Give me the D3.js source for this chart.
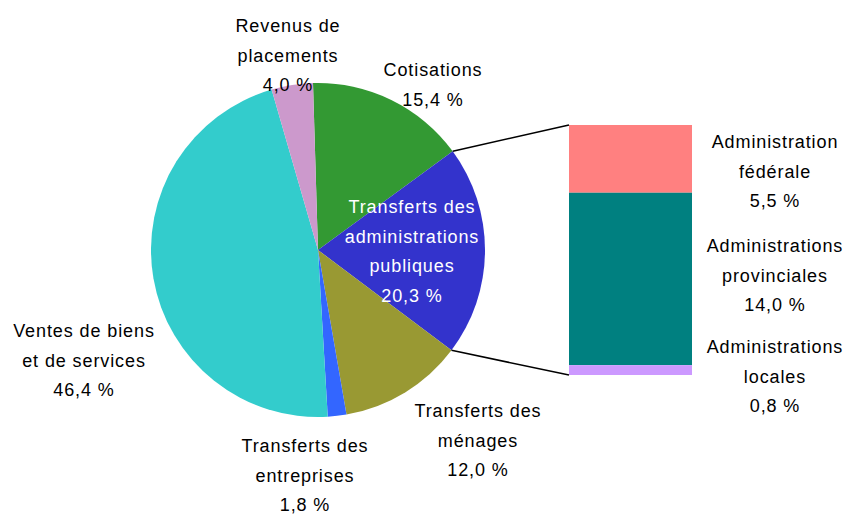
<!DOCTYPE html>
<html><head><meta charset="utf-8">
<script src="https://cdn.jsdelivr.net/npm/d3@7"></script>
<style>body{margin:0;background:#fff}svg{display:block}text{font-family:"Liberation Sans",Arial,sans-serif;font-size:18px;letter-spacing:0.9px}</style>
</head><body><svg id="c" width="846" height="515"></svg>
<script>
// Data
const pieCategories = ["Cotisations", "Transferts des administrations publiques", "Transferts des ménages", "Transferts des entreprises", "Ventes de biens et de services", "Revenus de placements"];
const pieValues = [15.4, 20.3, 12.0, 1.8, 46.4, 4.0];
const pieLabelLines = [["Cotisations", "15,4 %"], ["Transferts des", "administrations", "publiques", "20,3 %"], ["Transferts des", "ménages", "12,0 %"], ["Transferts des", "entreprises", "1,8 %"], ["Ventes de biens", "et de services", "46,4 %"], ["Revenus de", "placements", "4,0 %"]];
const barCategories = ["Administration fédérale", "Administrations provinciales", "Administrations locales"];
const barValues = [5.5, 14.0, 0.8];
const barLabelLines = [["Administration", "fédérale", "5,5 %"], ["Administrations", "provinciales", "14,0 %"], ["Administrations", "locales", "0,8 %"]];

// Layout / styles
const pieColors = ["#339933", "#3333CC", "#999933", "#3366FF", "#33CCCC", "#CC99CC"];
const barColors = ["#FF8080", "#008080", "#CC99FF"];
const cx = 318, cy = 250, R = 167, rot = -0.03;
const pieLabelPos = [[433, 76, "#000"], [412, 213, "#fff"], [478, 417, "#000"], [305, 452, "#000"], [84, 337, "#000"], [288, 32, "#000"]];
const barX = 569, barW = 123, barTop = 125, barBottom = 375;
const barLabelPos = [[775, 148], [775, 252], [775, 353]];
const lineH = 29.5;

const svg = d3.select("#c");
const pie = d3.pie().sort(null).value(d => d).startAngle(rot).endAngle(rot + 2 * Math.PI);
const arcs = pie(pieValues);
const arc = d3.arc().innerRadius(0).outerRadius(R);
const g = svg.append("g").attr("transform", `translate(${cx},${cy})`);
g.selectAll("path").data(arcs).join("path").attr("d", arc).attr("fill", (d, i) => pieColors[i]);

// bar
const total = d3.sum(barValues);
const y = d3.scaleLinear().domain([0, total]).range([barTop, barBottom]);
const cum = barValues.map((v, i) => d3.sum(barValues.slice(0, i)));
svg.selectAll("rect.bar").data(barValues).join("rect").attr("class", "bar")
  .attr("x", barX).attr("width", barW)
  .attr("y", (d, i) => y(cum[i])).attr("height", d => y(d) - y(0))
  .attr("fill", (d, i) => barColors[i]);

// connector lines
const a1 = arcs[1];
const pt = a => [cx + R * Math.sin(a), cy - R * Math.cos(a)];
const p1 = pt(a1.startAngle), p2 = pt(a1.endAngle);
svg.append("line").attr("x1", p1[0]).attr("y1", p1[1]).attr("x2", barX).attr("y2", y(0)).attr("stroke", "#000").attr("stroke-width", 1.5);
svg.append("line").attr("x1", p2[0]).attr("y1", p2[1]).attr("x2", barX).attr("y2", y(total)).attr("stroke", "#000").attr("stroke-width", 1.5);

function block(lines, x, yb, color) {
  const t = svg.append("text").attr("text-anchor", "middle").attr("fill", color);
  lines.forEach((l, i) => t.append("tspan").attr("x", x).attr("y", yb + i * lineH).text(l));
}
pieLabelLines.forEach((l, i) => block(l, pieLabelPos[i][0], pieLabelPos[i][1], pieLabelPos[i][2]));
barLabelLines.forEach((l, i) => block(l, barLabelPos[i][0], barLabelPos[i][1], "#000"));
</script></body></html>
